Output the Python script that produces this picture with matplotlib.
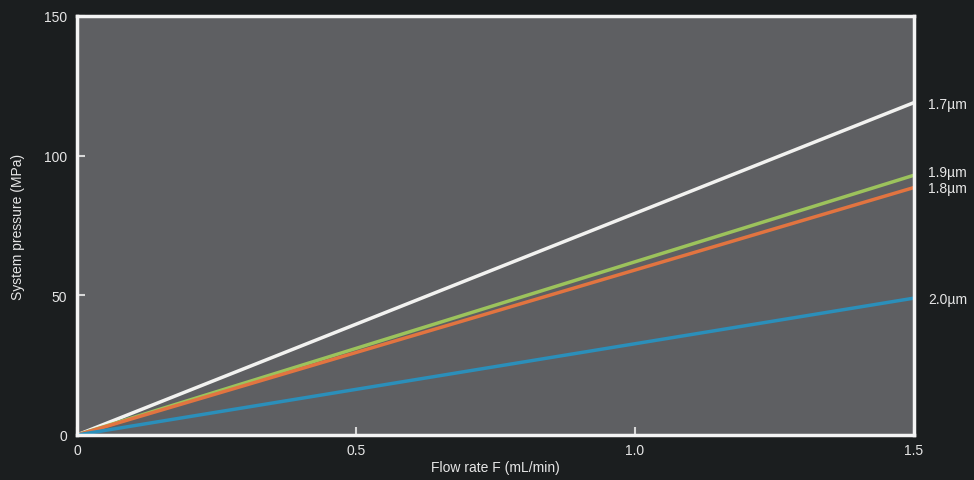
import matplotlib.pyplot as plt

plt.rcParams["font.family"] = ["Liberation Sans", "DejaVu Sans"]

# pressure vs flow, one line per particle size
FLOW = [0.0, 1.5]
SIZES = ["1.7µm", "1.9µm", "1.8µm", "2.0µm"]
PRESSURE = {
    "1.7µm": [0.0, 119.0],
    "1.9µm": [0.0, 93.0],
    "1.8µm": [0.0, 88.6],
    "2.0µm": [0.0, 49.0],
}
LABEL_Y = [118.5, 94.3, 88.5, 48.8]
COLORS = ["#f2f2f0", "#9cc35c", "#e27440", "#2b8fba"]

BG = "#1b1e1f"
TXT = "#e6e6e6"

fig = plt.figure(figsize=(9.74, 4.81), dpi=100, facecolor=BG)
ax = fig.add_axes([77 / 974, 45 / 481, 837 / 974, 419 / 481])
ax.set_facecolor("#5e5f62")

for size, color in zip(SIZES, COLORS):
    ax.plot(FLOW, PRESSURE[size], color=color, lw=2.5, solid_capstyle="butt")

for size, y in zip(SIZES, LABEL_Y):
    ax.annotate(size, xy=(FLOW[-1], y), xytext=(10, 0), textcoords="offset points",
                color=TXT, fontsize=10, va="center", ha="left", annotation_clip=False)

ax.set_xlim(0, 1.5)
ax.set_ylim(0, 150)
ax.set_xticks([0, 0.5, 1.0, 1.5], ["0", "0.5", "1.0", "1.5"])
ax.set_yticks([0, 50, 100, 150], ["0", "50", "100", "150"])
ax.tick_params(direction="in", length=6, width=1.5, colors="#d8d8d8",
               labelcolor=TXT, labelsize=10)
ax.tick_params(axis="x", pad=6)
ax.tick_params(axis="y", pad=7)
for s in ax.spines.values():
    s.set_color("#f4f4f4")
    s.set_linewidth(2.5)

ax.set_xlabel("Flow rate F (mL/min)", color=TXT, fontsize=10, labelpad=2)
ax.set_ylabel("System pressure (MPa)", color=TXT, fontsize=10, labelpad=14)

plt.savefig("out.png", facecolor=BG)
